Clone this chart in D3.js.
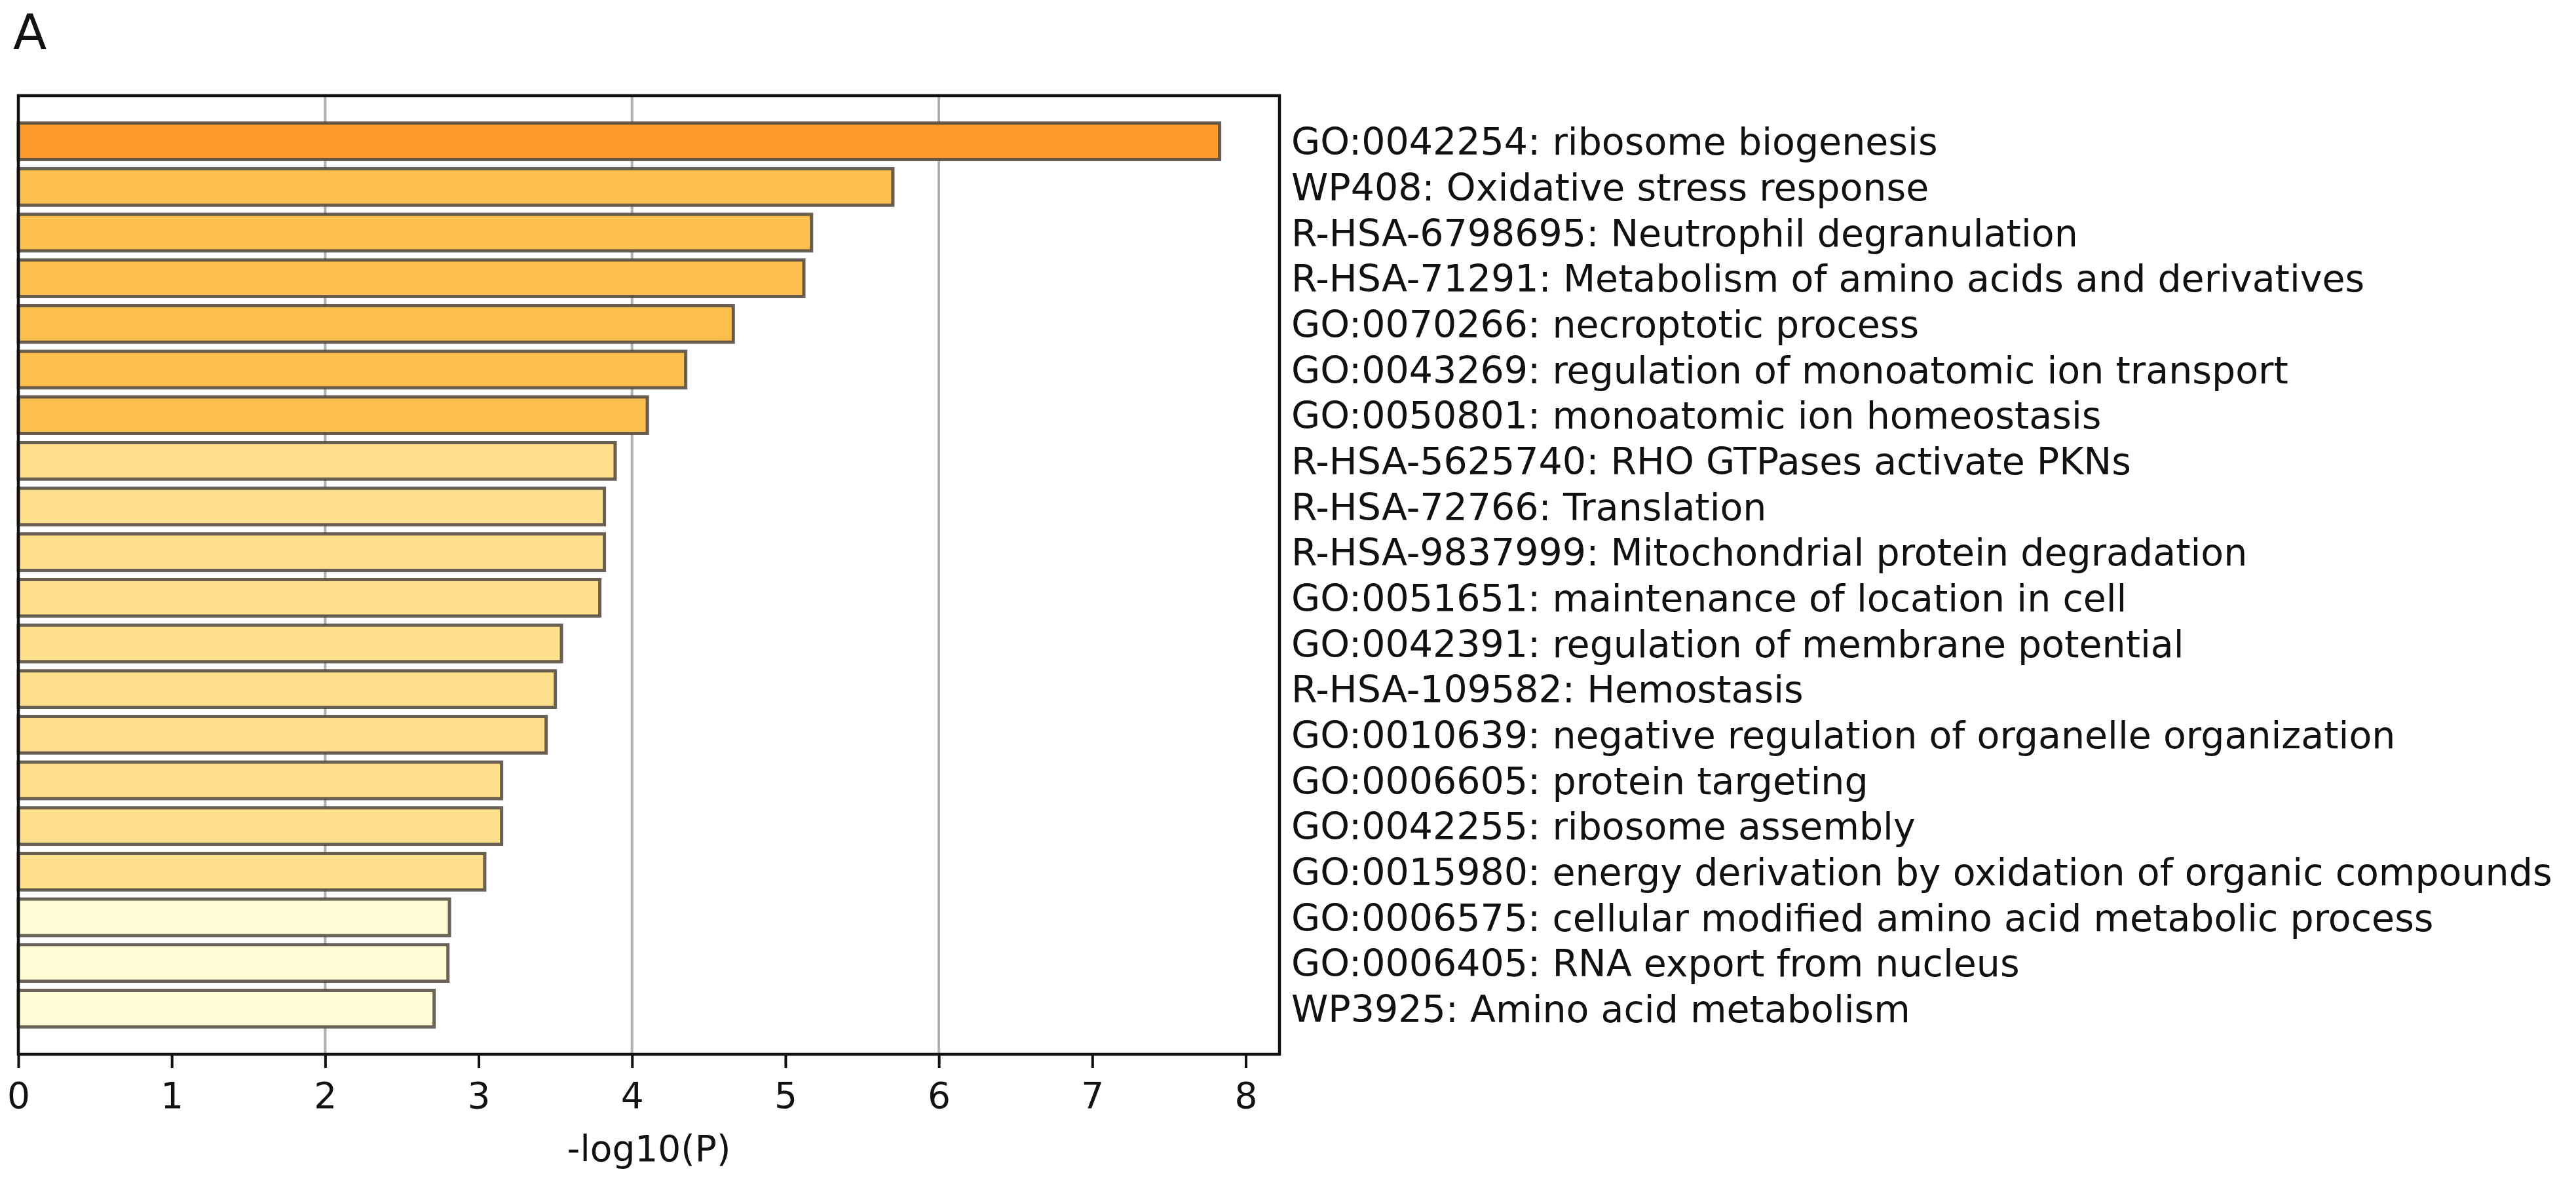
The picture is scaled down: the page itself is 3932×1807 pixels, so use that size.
<!DOCTYPE html>
<html>
<head>
<meta charset="utf-8">
<script src="https://cdn.jsdelivr.net/npm/d3@7"></script>
<style>
  html, body { margin: 0; padding: 0; background: #fff; }
  svg text { font-family: "DejaVu Sans", sans-serif; fill: #111; }
</style>
</head>
<body>
<svg id="chart" width="3932" height="1807"></svg>
<script>
// ---- data ----
const categories = [
  "GO:0042254: ribosome biogenesis",
  "WP408: Oxidative stress response",
  "R-HSA-6798695: Neutrophil degranulation",
  "R-HSA-71291: Metabolism of amino acids and derivatives",
  "GO:0070266: necroptotic process",
  "GO:0043269: regulation of monoatomic ion transport",
  "GO:0050801: monoatomic ion homeostasis",
  "R-HSA-5625740: RHO GTPases activate PKNs",
  "R-HSA-72766: Translation",
  "R-HSA-9837999: Mitochondrial protein degradation",
  "GO:0051651: maintenance of location in cell",
  "GO:0042391: regulation of membrane potential",
  "R-HSA-109582: Hemostasis",
  "GO:0010639: negative regulation of organelle organization",
  "GO:0006605: protein targeting",
  "GO:0042255: ribosome assembly",
  "GO:0015980: energy derivation by oxidation of organic compounds",
  "GO:0006575: cellular modified amino acid metabolic process",
  "GO:0006405: RNA export from nucleus",
  "WP3925: Amino acid metabolism"
];
const values = [7.83, 5.70, 5.17, 5.12, 4.66, 4.35, 4.10, 3.89, 3.82, 3.82,
                3.79, 3.54, 3.50, 3.44, 3.15, 3.15, 3.04, 2.81, 2.80, 2.71];
const xTicks = [0, 1, 2, 3, 4, 5, 6, 7, 8];
const gridTicks = [2, 4, 6];
const colorBreaks = [3, 4, 6];
const palette = ["#FFFED4", "#FEDF8C", "#FCC04E", "#F99A2B"];
const xLabel = "-log10(P)";
const panelLabel = "A";

// ---- layout ----
const L = 28, R = 1953, T = 146, B = 1609;
const svg = d3.select("#chart");

const x = d3.scaleLinear().domain([0, 8.22]).range([L, R]);
const y = d3.scaleLinear().domain([0, categories.length + 1]).range([T, B]);
const pitch = y(1) - y(0);
const barH = pitch * 0.8;
const color = d3.scaleThreshold().domain(colorBreaks).range(palette);

// gridlines
svg.append("g").selectAll("line").data(gridTicks).join("line")
  .attr("x1", d => x(d)).attr("x2", d => x(d))
  .attr("y1", T).attr("y2", B)
  .attr("stroke", "#b0b0b0").attr("stroke-width", 4);

// bars
svg.append("g").selectAll("rect").data(values).join("rect")
  .attr("x", x(0))
  .attr("y", (d, i) => y(i + 1) - barH / 2)
  .attr("width", d => x(d) - x(0))
  .attr("height", barH)
  .attr("fill", d => color(d))
  .attr("stroke", "#4f473e")
  .attr("stroke-opacity", 0.85)
  .attr("stroke-width", 5);

// frame
svg.append("rect")
  .attr("x", L).attr("y", T).attr("width", R - L).attr("height", B - T)
  .attr("fill", "none").attr("stroke", "#111").attr("stroke-width", 4.5);

// x axis
const xAxis = d3.axisBottom(x).tickValues(xTicks).tickFormat(d3.format("d"))
  .tickSize(21).tickPadding(22);
const gx = svg.append("g").attr("transform", `translate(0,${B})`).call(xAxis);
gx.select(".domain").remove();
gx.selectAll(".tick line").attr("stroke", "#111").attr("stroke-width", 4);
gx.selectAll(".tick text").attr("font-size", 55).attr("fill", "#111")
  .attr("font-family", "DejaVu Sans");

// x label
svg.append("text").attr("x", (L + R) / 2).attr("y", 1772)
  .attr("text-anchor", "middle").attr("font-size", 55).text(xLabel);

// category labels (right side)
svg.append("g").selectAll("text").data(categories).join("text")
  .attr("x", 1971)
  .attr("y", (d, i) => y(i + 1))
  .attr("dy", "0.36em")
  .attr("font-size", 57)
  .text(d => d);

// panel label
svg.append("text").attr("x", 20).attr("y", 75).attr("font-size", 75).text(panelLabel);
</script>
</body>
</html>
